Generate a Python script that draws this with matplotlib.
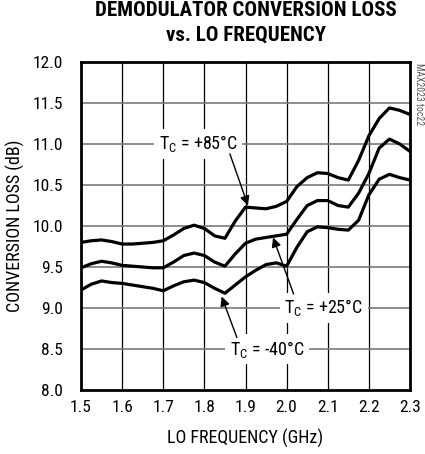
import matplotlib
matplotlib.use("Agg")
import matplotlib.pyplot as plt

# LO frequency (GHz) and demodulator conversion loss (dB)
freq = [1.500, 1.525, 1.550, 1.575, 1.600, 1.625, 1.650, 1.675, 1.700, 1.725, 1.750,
        1.775, 1.800, 1.825, 1.850, 1.875, 1.900, 1.925, 1.950, 1.975, 2.000, 2.025,
        2.050, 2.075, 2.100, 2.125, 2.150, 2.175, 2.200, 2.225, 2.250, 2.275, 2.300]
loss_85 = [9.80, 9.82, 9.83, 9.81, 9.78, 9.78, 9.79, 9.80, 9.82, 9.89, 9.97,
           10.01, 9.97, 9.88, 9.85, 10.06, 10.23, 10.22, 10.21, 10.24, 10.30, 10.48,
           10.59, 10.65, 10.64, 10.59, 10.56, 10.80, 11.10, 11.31, 11.44, 11.41, 11.36]
loss_25 = [9.49, 9.54, 9.57, 9.55, 9.52, 9.51, 9.50, 9.49, 9.49, 9.56, 9.64,
           9.67, 9.64, 9.56, 9.51, 9.66, 9.79, 9.84, 9.86, 9.88, 9.90, 10.08,
           10.25, 10.31, 10.31, 10.25, 10.23, 10.40, 10.64, 10.95, 11.06, 11.00, 10.91]
loss_m40 = [9.22, 9.29, 9.33, 9.31, 9.30, 9.28, 9.26, 9.24, 9.21, 9.27, 9.32,
            9.34, 9.31, 9.24, 9.18, 9.28, 9.38, 9.46, 9.53, 9.55, 9.51, 9.74,
            9.93, 9.99, 9.98, 9.96, 9.95, 10.07, 10.38, 10.57, 10.63, 10.59, 10.56]

x_ticks = [1.5, 1.6, 1.7, 1.8, 1.9, 2.0, 2.1, 2.2, 2.3]
y_ticks = [8.0, 8.5, 9.0, 9.5, 10.0, 10.5, 11.0, 11.5, 12.0]

# condensed face, like the datasheet's Helvetica Narrow
plt.rcParams['font.family'] = ['Roboto Condensed', 'Archivo Narrow', 'DejaVu Sans']
plt.rcParams['mathtext.fontset'] = 'custom'
plt.rcParams['mathtext.rm'] = 'Roboto Condensed'

fig = plt.figure(figsize=(4.25, 4.54), dpi=100)
ax = fig.add_axes([81/425, 1 - 390/454, 329/425, 328/454])

for loss in (loss_85, loss_25, loss_m40):
    ax.plot(freq, loss, color='black', lw=2.3, solid_capstyle='round', zorder=3)

ax.set_xlim(1.5, 2.3)
ax.set_ylim(8.0, 12.0)
ax.set_xticks(x_ticks)
ax.set_yticks(y_ticks)
ax.set_xticklabels([f"{t:.1f}" for t in x_ticks])
ax.set_yticklabels([f"{t:.1f}" for t in y_ticks])
ax.tick_params(length=0, labelsize=12.5)
ax.tick_params(axis='x', pad=7)
ax.tick_params(axis='y', pad=13)
for t in x_ticks[1:-1]:
    ax.axvline(t, color='black', lw=0.9, zorder=1)
for t in y_ticks[1:-1]:
    ax.axhline(t, color='#7a7a7a', lw=1.2, zorder=1)
for s in ax.spines.values():
    s.set_linewidth(2.0)

ax.set_xlabel("LO FREQUENCY (GHz)", fontsize=13, labelpad=10)
ax.set_ylabel("CONVERSION LOSS (dB)", fontsize=13, labelpad=5)

fig.text(0.579, 0.997, "DEMODULATOR CONVERSION LOSS\nvs. LO FREQUENCY", ha='center',
         va='top', fontsize=15, fontweight='heavy', linespacing=1.35)
fig.text(0.985, 0.862, "MAX2023 toc22", rotation=270, ha='center', va='top',
         fontsize=7, color='#555555')

box = dict(boxstyle='square,pad=0.25', fc='white', ec='none')
arrow = dict(arrowstyle='-|>', color='black', lw=1.0, mutation_scale=14,
             shrinkA=0, shrinkB=0)
ax.text(1.785, 11.0, r"T$_\mathregular{C}$ = +85°C", ha='center', va='center',
        fontsize=13, bbox=box, zorder=4)
ax.annotate("", xy=(1.906, 10.25), xytext=(1.862, 10.88), arrowprops=arrow, zorder=4)
ax.text(2.09, 9.0, r"T$_\mathregular{C}$ = +25°C", ha='center', va='center',
        fontsize=13, bbox=box, zorder=4)
ax.annotate("", xy=(1.967, 9.86), xytext=(2.017, 9.17), arrowprops=arrow, zorder=4)
ax.text(1.952, 8.5, r"T$_\mathregular{C}$ = -40°C", ha='center', va='center',
        fontsize=13, bbox=box, zorder=4)
ax.annotate("", xy=(1.842, 9.14), xytext=(1.879, 8.64), arrowprops=arrow, zorder=4)

fig.savefig("out.png", dpi=100)
